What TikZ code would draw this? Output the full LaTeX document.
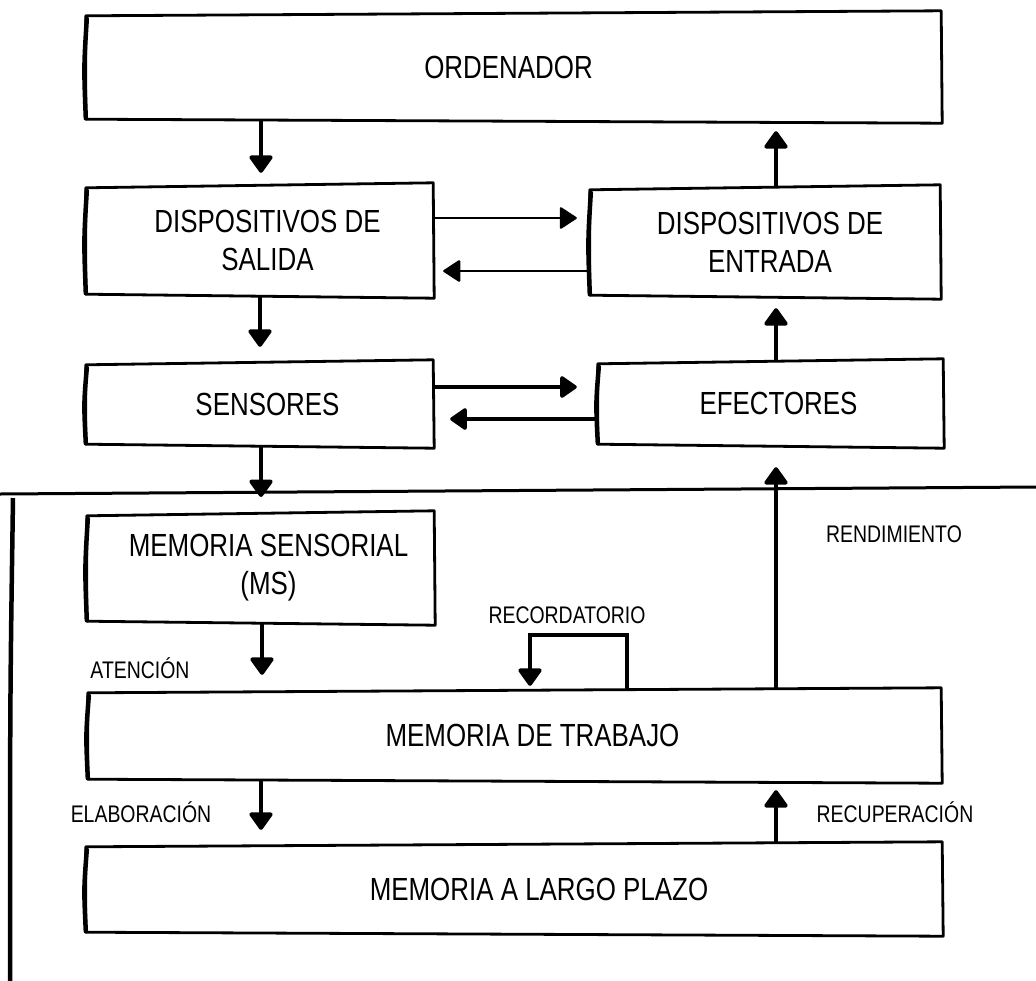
\documentclass[tikz,border=0pt]{standalone}
\usepackage{fontspec}
\setmainfont{Liberation Sans}[FakeStretch=0.81]
\usetikzlibrary{arrows.meta,calc}
\tikzset{
  box/.style={draw=none, rectangle, inner sep=0pt, align=center,
              font=\fontsize{32}{38}\selectfont},
  outline/.style={line width=2.8pt, line join=round},
  leftedge/.style={line width=4.5pt, line cap=round},
  lbl/.style={font=\fontsize{24}{28}\selectfont, anchor=base, inner sep=0pt},
  arr/.style={line width=4pt, -{Triangle[width=26pt,length=19pt,round]}},
  thinarr/.style={line width=2.2pt, -{Triangle[width=23pt,length=18pt,round]}},
  midarr/.style={line width=3.5pt, -{Triangle[width=24pt,length=18pt,round]}},
  frameline/.style={line width=3pt, line cap=round}
}
\newcommand\skbox[1]{%
  \draw[outline] ($(#1.north west)+(0,3)$) -- ($(#1.north east)+(0,-2)$)
     -- ($(#1.south east)+(1,2)$) -- ($(#1.south west)+(0,-2)$) -- cycle;
  \draw[leftedge] ($(#1.north west)+(1,6)$) .. controls ($(#1.west)+(-2,0)$) .. ($(#1.south west)+(0,-3)$);
}
\begin{document}
\begin{tikzpicture}[x=1pt,y=-1pt]
\useasboundingbox (0,0) rectangle (1036,980);

% boxes
\node[box, minimum width=855pt, minimum height=108pt] (ord) at (513.5,67) {ORDENADOR\hspace*{10pt}};
\node[box, minimum width=347pt, minimum height=111pt] (sal) at (259.5,240.5) {\hspace*{16pt}DISPOSITIVOS DE\\\hspace*{16pt}SALIDA};
\node[box, minimum width=350pt, minimum height=110pt] (ent) at (765,242) {\hspace*{10pt}DISPOSITIVOS DE\\\hspace*{10pt}ENTRADA};
\node[box, minimum width=347pt, minimum height=84pt] (sen) at (259.5,404) {\hspace*{16pt}SENSORES};
\node[box, minimum width=345pt, minimum height=85pt] (efe) at (770.5,403.5) {\hspace*{16pt}EFECTORES};
\node[box, minimum width=347pt, minimum height=110pt] (ms) at (260.5,568) {\hspace*{16pt}MEMORIA SENSORIAL\\\hspace*{16pt}(MS)};
\node[box, minimum width=853pt, minimum height=91pt] (mdt) at (514.5,735.5) {\hspace*{36pt}MEMORIA DE TRABAJO};
\node[box, minimum width=856pt, minimum height=90pt] (mlp) at (514,889) {\hspace*{50pt}MEMORIA A LARGO PLAZO};
\skbox{ord}\skbox{sal}\skbox{ent}\skbox{sen}\skbox{efe}\skbox{ms}\skbox{mdt}\skbox{mlp}

% frame
\coordinate (fl) at (0,494);
\coordinate (fr) at (1036,487);
\coordinate (ft) at (13,498);
\coordinate (fb) at (10,1000);
\coordinate (fhit) at (261,497);
\draw[frameline] (fl) -- (fr);
\draw[line width=4.5pt] (ft) .. controls (10,700) .. (fb);

% labels
\node[lbl] (atencion) at (140,678) {ATENCIÓN};
\node[lbl] (recordatorio) at (567,623) {RECORDATORIO};
\node[lbl] (rendimiento) at (894,542) {RENDIMIENTO};
\node[lbl] (elaboracion) at (141,822) {ELABORACIÓN};
\node[lbl] (recuperacion) at (895,822) {RECUPERACIÓN};

% arrows
\draw[arr, shorten >=12pt] ($(ord.south)+(-252.5,0)$) -- ($(sal.north)+(1.5,0)$);
\draw[arr, shorten >=10pt] ($(ent.north)+(11,0)$) -- ($(ord.south)+(262.5,0)$);
\draw[thinarr, shorten >=13pt] ($(sal.east)+(0,-22.5)$) -- ($(ent.west)+(0,-24)$);
\draw[thinarr, shorten >=10pt] ($(ent.west)+(0,29)$) -- ($(sal.east)+(0,30.5)$);
\draw[arr, shorten >=15pt] ($(sal.south)+(0.5,0)$) -- ($(sen.north)+(0.5,0)$);
\draw[arr, shorten >=11pt] ($(efe.north)+(5.5,0)$) -- ($(ent.south)+(11,0)$);
\draw[midarr, shorten >=21pt] ($(sen.east)+(0,-17)$) -- ($(efe.west)+(0,-16.5)$);
\draw[midarr, shorten >=17pt] ($(efe.west)+(0,15.5)$) -- ($(sen.east)+(0,15)$);
\draw[arr] ($(sen.south)+(1.5,0)$) -- (fhit);
\draw[arr, shorten >=15pt] ($(ms.south)+(1.5,0)$) -- ($(mdt.north)+(-252.5,0)$);
\draw[arr, shorten >=21pt] ($(mdt.north)+(261.5,0)$) -- ($(efe.south)+(5.5,0)$);
\draw[arr, shorten >=4pt] ($(mdt.north)+(112.5,0)$) -- ++(0,-55) -| ($(mdt.north)+(15.5,0)$);
\draw[arr, shorten >=14pt] ($(mdt.south)+(-253.5,0)$) -- ($(mlp.north)+(-253,0)$);
\draw[arr, shorten >=9pt] ($(mlp.north)+(262,0)$) -- ($(mdt.south)+(261.5,0)$);
\end{tikzpicture}
\end{document}
